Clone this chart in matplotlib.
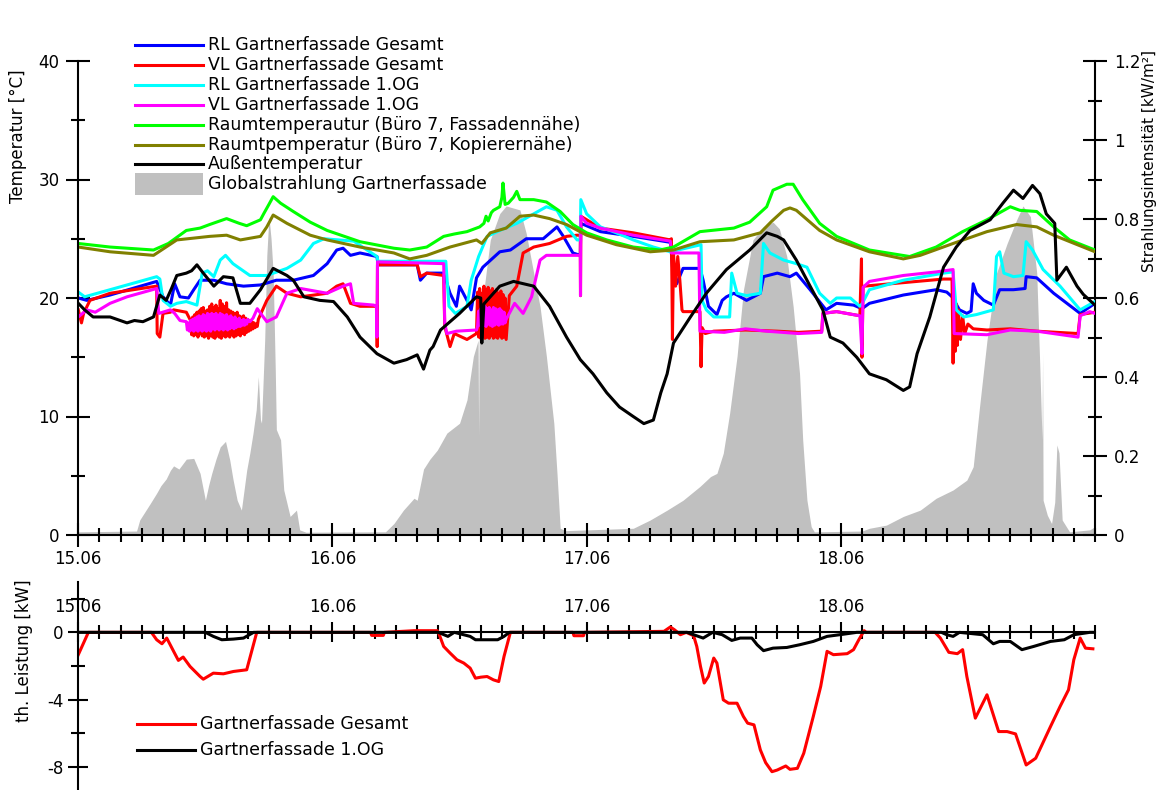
import numpy as np
import matplotlib.pyplot as plt
from matplotlib.lines import Line2D
from matplotlib.patches import Rectangle
from matplotlib.ticker import MultipleLocator, FixedLocator, FixedFormatter

plt.rcParams['font.family'] = ['DejaVu Sans']
plt.rcParams['font.size'] = 12
plt.rcParams['axes.unicode_minus'] = False

# time in hours since 15.06 00:00
day_ticks = [0, 24, 48, 72]
day_labels = ["15.06", "16.06", "17.06", "18.06"]

# [hour, deg C]
rl_gesamt = np.array([
    [0, 20.0], [0.8, 19.8], [3, 20.25], [7.4, 21.4], [8.0, 20.1], [8.7, 19.4], [9.1, 21.2],
    [9.6, 20.1], [10.4, 20.0], [10.9, 20.7], [11.5, 21.5], [12.8, 21.5], [14, 21.2],
    [15.6, 21.0], [17.2, 21.1], [18.7, 21.5], [20.3, 21.5], [22.2, 21.9], [23.5, 22.9],
    [24.4, 24.05], [25, 24.2], [25.7, 23.6], [26.6, 23.8], [28.2, 23.5], [28.3, 22.8],
    [32.0, 22.8], [32.3, 21.5], [32.9, 22.1], [34.5, 22.1], [35.1, 20.4], [35.7, 19.3],
    [36, 21.0], [36.7, 19.8], [37.1, 19.0], [37.6, 21.7], [38.2, 22.6], [39.8, 23.9],
    [40.8, 24.05], [42.3, 25.0], [43.9, 25.0], [45.2, 26.0], [45.8, 25.2], [46.7, 23.8],
    [47.4, 23.6], [47.45, 26.3], [49.3, 25.6], [52.4, 25.2], [55.9, 24.7], [56.0, 23.8],
    [56.2, 21.5], [56.5, 21.2], [57.1, 22.5], [58.7, 22.5], [59, 21.5], [59.5, 19.3],
    [60.3, 18.6], [60.8, 19.8], [61.2, 20.1], [61.9, 20.4], [63.1, 19.8], [64.4, 20.4],
    [64.7, 21.8], [66, 22.1], [67.2, 21.8], [67.8, 22.1], [69.1, 20.7], [70.6, 19.0],
    [71.6, 19.55], [73.2, 19.4], [74, 19.1], [74.7, 19.55], [77.9, 20.25], [81, 20.7],
    [82, 20.5], [82.5, 20.1], [83.2, 19.0], [83.9, 18.7], [84.3, 18.9], [84.5, 21.2],
    [84.8, 20.4], [85.5, 19.8], [86.4, 19.4], [87, 20.7], [88.3, 20.7], [89.4, 20.8],
    [89.5, 21.8], [90.5, 21.7], [92.1, 20.4], [94.6, 18.7], [96, 19.55]])

vl_gesamt = np.array([
    [0, 19.0], [0.3, 17.9], [0.5, 18.7], [1.1, 19.8], [3, 20.4], [7.4, 21.0], [7.45, 17.0],
    [7.7, 16.7], [8.0, 18.7], [8.7, 18.8], [9.0, 19.0], [10.2, 18.8], [10.6, 18.1],
    [10.7, 16.9], [10.8, 18.4], [10.9, 16.8], [11.0, 18.6], [11.1, 16.9], [11.2, 18.8],
    [11.3, 16.7], [11.4, 18.9], [11.5, 17.0], [11.6, 19.1], [11.7, 16.8], [11.8, 19.2],
    [11.9, 16.7], [12.0, 18.9], [12.1, 16.8], [12.2, 19.0], [12.3, 16.6], [12.4, 19.3],
    [12.5, 16.8], [12.6, 19.5], [12.7, 16.7], [12.8, 19.2], [12.9, 16.6], [13.0, 19.4],
    [13.1, 16.8], [13.2, 19.1], [13.3, 16.7], [13.4, 19.8], [13.5, 16.6], [13.6, 19.5],
    [13.7, 16.8], [13.8, 19.3], [13.9, 16.7], [14.0, 19.6], [14.1, 16.8], [14.2, 19.0],
    [14.3, 16.7], [14.4, 18.9], [14.5, 16.9], [14.6, 18.8], [14.7, 16.7], [14.8, 18.7],
    [14.9, 16.8], [15.0, 18.8], [15.1, 16.9], [15.2, 18.5], [15.3, 16.8], [15.4, 18.4],
    [15.5, 17.0], [15.6, 18.5], [15.7, 16.9], [15.8, 18.3], [15.9, 17.1], [16.0, 18.2],
    [16.1, 17.2], [16.2, 18.1], [16.3, 17.3], [16.4, 18.0], [16.5, 17.4], [16.6, 17.9],
    [16.7, 17.5], [16.8, 17.8], [16.9, 17.6], [17.0, 18.2], [17.8, 19.8], [18.7, 21.0],
    [19.7, 20.4], [21, 20.1], [23.5, 20.4], [24.4, 21.0], [25, 21.2], [25.7, 19.55],
    [26.6, 19.3], [28.2, 19.3], [28.22, 15.9], [28.25, 22.8], [32.0, 22.8], [32.3, 21.8],
    [32.9, 22.1], [34.5, 21.9], [34.6, 17.6], [35.1, 15.9], [35.5, 17.0], [36.7, 16.5],
    [37.6, 17.0], [37.7, 20.5], [37.8, 16.7], [37.9, 20.8], [38.0, 16.6], [38.1, 20.4],
    [38.2, 16.8], [38.3, 21.0], [38.4, 16.6], [38.5, 20.7], [38.6, 16.7], [38.7, 20.9],
    [38.8, 16.6], [38.9, 20.6], [39.0, 16.8], [39.1, 20.8], [39.2, 16.6], [39.3, 20.5],
    [39.4, 16.7], [39.5, 20.7], [39.6, 16.6], [39.7, 20.4], [39.8, 16.8], [39.9, 20.6],
    [40.0, 16.6], [40.1, 20.3], [40.2, 16.7], [40.3, 20.0], [40.4, 16.5], [40.7, 20.2],
    [41.4, 21.0], [42.0, 23.8], [43, 24.3], [44.5, 24.6], [46.1, 25.2], [47.1, 25.3],
    [47.4, 25.3], [47.42, 20.2], [47.45, 26.9], [49.3, 25.9], [52.4, 25.5], [55.9, 24.9],
    [56.0, 25.0], [56.05, 21.5], [56.1, 16.5], [56.2, 23.8], [56.4, 21.0], [56.6, 23.5],
    [56.8, 21.5], [57.0, 19.0], [57.1, 18.85], [58.7, 18.85], [58.8, 14.2], [58.9, 17.5],
    [59.2, 17.0], [60, 17.2], [63, 17.3], [66, 17.2], [68, 17.1], [70.2, 17.2], [70.3, 18.7],
    [71.6, 18.85], [73.8, 18.5], [73.95, 23.3], [74.0, 15.0], [74.1, 20.9], [74.2, 21.0],
    [77.9, 21.3], [81.7, 21.6], [82.5, 21.6], [82.6, 14.5], [82.7, 20.4], [82.8, 15.5],
    [82.9, 19.5], [83.0, 16.0], [83.1, 19.0], [83.3, 16.5], [83.5, 18.5], [83.7, 17.0],
    [84, 17.8], [84.5, 17.4], [85.8, 17.3], [88, 17.4], [90.5, 17.2], [94.4, 17.0],
    [94.6, 18.6], [96, 18.8]])

rl_1og = np.array([
    [0, 20.5], [0.6, 20.1], [3, 20.7], [7.4, 21.8], [7.7, 21.6], [8.0, 19.8], [8.7, 19.3],
    [9.3, 19.55], [10.2, 19.7], [11.2, 19.4], [11.7, 22.1], [12.2, 22.3], [12.8, 21.8],
    [13.4, 23.2], [13.9, 23.6], [14.6, 22.9], [16.2, 21.9], [17.8, 21.9], [19.7, 22.5],
    [21, 23.2], [22.2, 24.6], [23.2, 25.0], [26.0, 24.8], [28.2, 23.5], [28.3, 23.1],
    [34.7, 23.1], [35.0, 19.3], [35.6, 18.7], [36.7, 19.3], [37.1, 21.5], [37.8, 23.5],
    [38.6, 25.2], [39.8, 25.7], [41.4, 26.3], [43, 27.1], [44.2, 27.7], [45.2, 27.4],
    [46.1, 26.0], [47.1, 24.9], [47.4, 24.9], [47.45, 28.3], [48, 27.1], [49.3, 26.0],
    [50.8, 25.5], [52.4, 24.9], [54.3, 24.3], [55.9, 23.9], [58.8, 24.5], [58.9, 19.8],
    [59.3, 19.0], [60, 18.4], [61.5, 18.4], [61.7, 22.1], [62.2, 20.4], [63.1, 20.2],
    [64.4, 20.4], [64.7, 24.6], [65.3, 23.8], [66.6, 23.2], [67.8, 22.9], [68.8, 22.6],
    [70, 20.4], [71, 19.55], [71.6, 20.0], [72.9, 20.0], [73.8, 19.3], [74.0, 19.5],
    [74.7, 20.7], [77.9, 21.5], [81.7, 22.1], [82.6, 22.2], [82.9, 19.0], [83.6, 18.4],
    [84.8, 18.6], [86.4, 19.0], [86.7, 23.5], [87, 23.9], [87.4, 22.1], [88.3, 21.8],
    [89.2, 21.9], [89.5, 24.75], [90.1, 24.05], [91.1, 22.4], [92.7, 21.0], [94.6, 19.0],
    [96, 19.7]])

vl_1og = np.array([
    [0, 18.4], [0.8, 19.0], [1.6, 18.8], [3, 19.55], [4.6, 20.1], [7.4, 20.8], [7.6, 18.7],
    [8.7, 19.0], [9.1, 18.7], [9.6, 18.1], [10.2, 18.0], [10.3, 17.3], [10.4, 17.9],
    [10.5, 17.2], [10.6, 18.1], [10.7, 17.3], [10.8, 18.2], [10.9, 17.2], [11.0, 18.3],
    [11.1, 17.3], [11.2, 18.4], [11.3, 17.2], [11.4, 18.5], [11.5, 17.3], [11.6, 18.4],
    [11.7, 17.2], [11.8, 18.6], [11.9, 17.3], [12.0, 18.5], [12.1, 17.2], [12.2, 18.7],
    [12.3, 17.3], [12.4, 18.6], [12.5, 17.2], [12.6, 18.7], [12.7, 17.4], [12.8, 18.6],
    [12.9, 17.3], [13.0, 18.7], [13.1, 17.4], [13.2, 18.5], [13.3, 17.3], [13.4, 18.7],
    [13.5, 17.4], [13.6, 18.6], [13.7, 17.3], [13.8, 18.5], [13.9, 17.4], [14.0, 18.6],
    [14.1, 17.3], [14.2, 18.4], [14.3, 17.4], [14.4, 18.5], [14.5, 17.5], [14.6, 18.3],
    [14.7, 17.4], [14.8, 18.4], [14.9, 17.5], [15.0, 18.2], [15.1, 17.6], [15.2, 18.3],
    [15.3, 17.6], [15.4, 18.1], [15.5, 17.7], [15.6, 18.2], [15.7, 17.7], [15.8, 18.1],
    [15.9, 17.8], [16.0, 18.2], [16.2, 18.0], [16.5, 18.3], [16.9, 19.1], [17.3, 18.6],
    [17.8, 18.0], [18.7, 18.4], [19.7, 20.4], [21, 20.8], [23.5, 20.4], [25, 21.0],
    [25.7, 21.2], [26, 19.55], [27.9, 19.4], [28.15, 19.3], [28.2, 16.7], [28.25, 23.05],
    [34.5, 22.9], [34.6, 17.9], [34.8, 17.0], [35.7, 17.2], [37.6, 17.3], [37.7, 17.6],
    [37.8, 18.9], [37.9, 17.7], [38.0, 19.1], [38.1, 17.6], [38.2, 19.2], [38.3, 17.7],
    [38.4, 19.3], [38.5, 17.6], [38.6, 19.1], [38.7, 17.8], [38.8, 19.2], [38.9, 17.7],
    [39.0, 19.0], [39.1, 17.6], [39.2, 19.2], [39.3, 17.7], [39.4, 19.1], [39.5, 17.8],
    [39.6, 19.0], [39.7, 17.7], [39.8, 19.1], [39.9, 17.8], [40.0, 18.9], [40.1, 17.8],
    [40.2, 18.8], [40.3, 17.9], [40.4, 18.2], [40.7, 18.7], [41.2, 19.55], [42, 18.7],
    [42.8, 20.1], [43.6, 23.2], [44.2, 23.6], [47.4, 23.6], [47.42, 20.2], [47.45, 26.9],
    [48, 26.3], [49.3, 25.9], [52.4, 25.3], [55.9, 24.8], [56.0, 23.8], [58.6, 23.8],
    [58.7, 17.2], [61, 17.1], [63, 17.4], [65, 17.2], [68, 17.0], [70.2, 17.1], [70.3, 18.7],
    [71.6, 18.85], [73.8, 18.5], [74.0, 15.3], [74.1, 20.9], [74.7, 21.4], [77.9, 21.9],
    [81, 22.2], [82.6, 22.4], [82.7, 17.0], [85.8, 16.9], [88, 17.3], [90.5, 17.2],
    [94.4, 16.7], [94.6, 18.5], [95.5, 18.85], [96, 18.7]])

raum_fassade = np.array([
    [0, 24.6], [3, 24.3], [7.1, 24.05], [8.5, 24.6], [10.2, 25.7], [11.5, 25.9], [12.4, 26.2],
    [14, 26.7], [15.2, 26.3], [15.9, 26.1], [17.2, 26.6], [17.5, 27.1], [18.0, 27.9],
    [18.4, 28.55], [19.1, 28.0], [20.3, 27.3], [21.9, 26.4], [23.5, 25.7], [26.6, 24.75],
    [29.8, 24.2], [31.3, 24.05], [32.9, 24.3], [34.5, 25.2], [35.5, 25.4], [36.7, 25.6],
    [37.9, 26.0], [38.3, 26.3], [38.5, 26.9], [38.7, 26.5], [39.0, 27.2], [39.2, 27.4],
    [39.8, 27.7], [40.0, 28.5], [40.1, 29.7], [40.3, 27.9], [40.6, 28.0], [41.1, 28.5],
    [41.4, 29.0], [41.7, 28.3], [43, 28.3], [44.2, 28.1], [45.5, 27.3], [46.7, 26.2],
    [48, 25.5], [49.9, 24.9], [52.4, 24.3], [54.9, 24.05], [56.2, 24.3], [58.7, 25.6],
    [61.9, 25.9], [63.4, 26.4], [65, 27.7], [65.6, 29.1], [66.9, 29.6], [67.5, 29.6],
    [68.4, 28.3], [70, 26.3], [71.6, 25.2], [74.7, 24.05], [78.5, 23.5], [81, 24.3],
    [83.5, 25.6], [85.8, 26.6], [88, 27.7], [88.9, 27.4], [90.5, 27.3], [92.1, 26.0],
    [93.6, 24.9], [96, 24.05]])

raum_kopierer = np.array([
    [0, 24.3], [3, 23.9], [7.1, 23.6], [9.3, 24.9], [12.4, 25.2], [14, 25.3], [15.3, 24.9],
    [17.2, 25.2], [17.8, 26.0], [18.4, 27.0], [19.7, 26.3], [21.9, 25.3], [23.5, 24.9],
    [26.6, 24.3], [29.8, 23.8], [31.3, 23.3], [32.9, 23.6], [35.1, 24.3], [37.6, 24.9],
    [38.1, 24.6], [38.9, 25.5], [40.4, 25.9], [41.7, 26.9], [43, 27.0], [44.5, 26.7],
    [46.1, 26.2], [48, 25.3], [50.8, 24.5], [54, 23.9], [56.2, 24.05], [58.7, 24.75],
    [61.9, 24.9], [64.4, 25.5], [65.5, 26.5], [66.6, 27.4], [67.2, 27.6], [67.8, 27.4],
    [70, 25.7], [71.6, 24.9], [74.7, 23.9], [77.9, 23.3], [79.5, 23.6], [82.6, 24.6],
    [85.8, 25.6], [88.6, 26.2], [90.5, 26.0], [92.1, 25.3], [96, 23.9]])

aussen = np.array([
    [0, 19.55], [0.6, 19.0], [1.4, 18.4], [3, 18.4], [4.6, 17.9], [5.3, 18.1], [6.1, 18.0],
    [7.1, 18.4], [7.7, 20.25], [8.3, 19.8], [8.8, 20.8], [9.3, 21.9], [10.2, 22.1],
    [10.7, 22.3], [11.2, 22.8], [11.8, 22.1], [12.8, 21.0], [13.7, 21.8], [14.6, 21.7],
    [15.3, 19.55], [16.2, 19.55], [17.2, 20.7], [18.4, 22.5], [19.7, 21.9], [20.3, 21.5],
    [21.3, 20.1], [22.8, 19.8], [24.1, 19.7], [25.4, 18.4], [26.6, 16.7], [28.2, 15.3],
    [29.8, 14.5], [31, 14.8], [32, 15.2], [32.6, 14.0], [33.2, 15.6], [33.5, 15.9],
    [34.2, 17.3], [36, 18.7], [37.6, 20.1], [38.0, 20.0], [38.1, 16.2], [38.3, 19.5],
    [38.6, 19.8], [39.8, 21.0], [41.1, 21.4], [43, 21.0], [44.5, 19.3], [46.1, 16.7],
    [47.4, 14.8], [48.6, 13.6], [49.9, 12.0], [51.1, 10.8], [52.4, 10.0], [53.4, 9.4],
    [54.3, 9.7], [55, 12.0], [55.6, 13.6], [56.2, 16.2], [57.8, 18.4], [59.3, 20.4],
    [61.2, 22.4], [63.4, 24.05], [65, 25.5], [66, 25.2], [66.6, 24.9], [67.8, 23.2],
    [69.1, 21.0], [70.3, 19.0], [71, 16.7], [72.2, 16.2], [73.5, 15.0], [74.7, 13.6],
    [76.3, 13.1], [77.9, 12.2], [78.5, 12.5], [79.2, 15.3], [80.4, 18.4], [81.7, 22.6],
    [82.9, 24.3], [84.2, 25.7], [86.1, 26.6], [87.3, 28.0], [88.3, 29.1], [89.2, 28.4],
    [90.1, 29.5], [90.8, 28.8], [91.4, 27.1], [92.2, 26.3], [92.4, 21.5], [93.3, 22.6],
    [94.3, 21.0], [94.9, 20.3], [96, 19.4]])

# [hour, kW/m2]
globalstrahlung = np.array([
    [0, 0.008], [5.5, 0.01], [5.8, 0.038], [6.8, 0.08], [7.4, 0.106], [7.8, 0.125],
    [8.3, 0.142], [8.7, 0.164], [9, 0.175], [9.5, 0.167], [10.2, 0.192], [10.9, 0.194],
    [11.2, 0.175], [11.5, 0.156], [12, 0.088], [12.3, 0.125], [12.6, 0.156], [13, 0.192],
    [13.4, 0.223], [13.9, 0.237], [14.3, 0.19], [14.6, 0.142], [15, 0.088], [15.4, 0.063],
    [15.9, 0.164], [16.2, 0.208], [16.5, 0.258], [16.8, 0.317], [17, 0.401], [17.2, 0.292],
    [17.3, 0.283], [17.6, 0.493], [17.8, 0.708], [18.0, 0.806], [18.2, 0.75], [18.4, 0.663],
    [18.6, 0.417], [18.7, 0.267], [19.1, 0.241], [19.4, 0.114], [20.0, 0.047], [20.6, 0.063],
    [20.9, 0.013], [21.5, 0.007], [29.0, 0.008], [29.8, 0.029], [30.7, 0.063], [31.7, 0.093],
    [32.0, 0.088], [32.6, 0.167], [33.2, 0.192], [33.9, 0.215], [34.8, 0.258], [36.0, 0.283],
    [36.7, 0.342], [37.3, 0.452], [37.75, 0.493], [37.8, 0.25], [37.85, 0.5], [38.1, 0.578],
    [38.9, 0.747], [39.8, 0.814], [40.4, 0.833], [41.7, 0.823], [42.3, 0.763], [43, 0.663],
    [43.6, 0.578], [44.2, 0.452], [44.9, 0.283], [45.2, 0.156], [45.5, 0.017], [46, 0.011],
    [52.4, 0.017], [54, 0.038], [55.6, 0.063], [57.1, 0.088], [58.7, 0.123], [59.7, 0.148],
    [60.3, 0.156], [60.9, 0.207], [61.5, 0.308], [62.2, 0.452], [62.8, 0.62], [63.7, 0.747],
    [64.7, 0.781], [65.6, 0.792], [66.2, 0.775], [66.9, 0.705], [67.5, 0.578], [68.1, 0.409],
    [68.4, 0.241], [68.8, 0.088], [69.2, 0.021], [69.5, 0.008], [74.0, 0.01], [74.7, 0.017],
    [76.3, 0.025], [77.9, 0.047], [79.5, 0.063], [81, 0.093], [82.6, 0.114], [83.9, 0.139],
    [84.5, 0.173], [85.1, 0.325], [85.8, 0.493], [86.7, 0.663], [87.7, 0.738], [88.6, 0.798],
    [89.2, 0.833], [89.9, 0.806], [90.5, 0.663], [90.8, 0.417], [91.0, 0.241], [91.05, 0.458],
    [91.1, 0.088], [91.5, 0.05], [91.9, 0.029], [92.2, 0.083], [92.4, 0.228], [92.6, 0.208],
    [92.9, 0.038], [93.6, 0.008], [95.5, 0.013], [96, 0.021]])

# [hour, kW]
leistung_gesamt = np.array([
    [0, -1.33], [0.95, 0], [6.9, 0], [7.4, -0.44], [7.9, -0.68], [8.35, -0.34], [9.0, -1.13],
    [9.45, -1.67], [9.9, -1.47], [10.55, -2.03], [11.5, -2.63], [11.8, -2.79], [12.75, -2.43],
    [13.7, -2.47], [14.65, -2.33], [15.9, -2.23], [16.85, 0], [27.6, 0], [27.7, -0.18],
    [28.8, -0.18], [28.9, 0], [31.7, 0.1], [33.9, 0.1], [34.0, 0], [34.5, -0.84],
    [35.1, -1.23], [35.75, -1.63], [36.4, -1.83], [37.0, -2.13], [37.5, -2.73], [38.0, -2.67],
    [38.6, -2.63], [39.2, -2.83], [39.7, -2.93], [40.2, -1.43], [40.8, 0], [46.7, 0],
    [46.8, -0.2], [47.7, -0.2], [47.8, 0], [55.3, 0.06], [55.9, 0.32], [56.3, 0.15],
    [56.85, -0.14], [57.4, 0], [58.1, -0.2], [58.4, -0.84], [58.75, -2.03], [59.1, -3.02],
    [59.5, -2.63], [60.0, -1.53], [60.3, -1.83], [60.9, -4.02], [61.4, -4.22], [62.2, -4.22],
    [62.8, -5.01], [63.2, -5.41], [63.8, -5.51], [64.4, -7.0], [64.9, -7.76], [65.5, -8.3],
    [66.0, -8.2], [66.8, -7.96], [67.2, -8.16], [67.9, -8.1], [68.5, -7.2], [69.4, -5.01],
    [70.1, -3.22], [70.7, -1.13], [71.3, -1.33], [72.6, -1.27], [73.2, -1.03], [73.7, -0.44],
    [74.2, 0.1], [74.4, 0], [80.9, 0], [81.4, -0.34], [82.2, -1.19], [83.0, -1.27],
    [83.5, -1.03], [83.9, -2.63], [84.7, -5.11], [85.8, -3.72], [86.9, -5.91], [87.7, -5.91],
    [88.5, -6.05], [89.5, -7.9], [90.4, -7.5], [91.8, -5.61], [92.7, -4.42], [93.5, -3.42],
    [94.0, -1.63], [94.6, -0.34], [95.1, -0.94], [95.8, -0.98]])

leistung_1og = np.array([
    [0, 0], [12.0, 0], [12.75, -0.24], [13.55, -0.44], [14.65, -0.4], [15.6, -0.34],
    [16.55, 0], [34.0, 0], [34.9, -0.24], [35.5, 0], [37.0, -0.24], [37.5, -0.44],
    [39.6, -0.44], [40.2, -0.24], [40.7, 0], [57.5, 0], [58.1, -0.14], [59.0, -0.34],
    [59.9, 0], [60.8, -0.14], [61.7, -0.48], [62.5, -0.34], [63.6, -0.34], [64.1, -0.74],
    [64.7, -1.09], [65.6, -0.94], [66.9, -0.9], [68.1, -0.74], [69.4, -0.54], [70.7, -0.24],
    [71.9, -0.14], [73.5, 0], [81.5, 0], [82.0, -0.14], [82.6, -0.24], [83.2, 0],
    [85.4, -0.14], [86.4, -0.68], [87.0, -0.54], [88.0, -0.54], [89.1, -1.03], [90.2, -0.84],
    [91.8, -0.54], [93.1, -0.44], [94.0, -0.14], [95.5, 0], [95.8, 0]])

top_series = [
    (rl_gesamt, "#0000ff", "RL Gartnerfassade Gesamt"),
    (vl_gesamt, "#ff0000", "VL Gartnerfassade Gesamt"),
    (rl_1og, "#00ffff", "RL Gartnerfassade 1.OG"),
    (vl_1og, "#ff00ff", "VL Gartnerfassade 1.OG"),
    (raum_fassade, "#00ff00", "Raumtemperautur (Büro 7, Fassadennähe)"),
    (raum_kopierer, "#808000", "Raumtpemperatur (Büro 7, Kopierernähe)"),
    (aussen, "#000000", "Außentemperatur"),
]
bottom_series = [
    (leistung_gesamt, "#ff0000", "Gartnerfassade Gesamt"),
    (leistung_1og, "#000000", "Gartnerfassade 1.OG"),
]
gray = "#c0c0c0"

W, H = 1167, 790
fig = plt.figure(figsize=(W / 100, H / 100), dpi=100)

def fx(px):
    return px / W

def fy(py):
    return 1 - py / H

x0, x1 = 78.3, 1095
LW = 2.2
LEG_FS = 12.5

# ---- top panel
ax = fig.add_axes([fx(x0), fy(535), (x1 - x0) / W, (535 - 61) / H])
axr = ax.twinx()
ax.set_zorder(axr.get_zorder() + 1)
ax.patch.set_visible(False)

axr.fill_between(globalstrahlung[:, 0], globalstrahlung[:, 1], color=gray, lw=0)
for data, c, lab in top_series:
    ax.plot(data[:, 0], data[:, 1], color=c, lw=LW)

ax.set_xlim(0, 96)
ax.set_ylim(0, 40)
axr.set_ylim(0, 1.2)
axr.set_xlim(0, 96)

for a in (ax, axr):
    a.spines['top'].set_visible(False)
    for s in a.spines.values():
        s.set_linewidth(1.5)
ax.spines['right'].set_visible(False)
axr.spines['left'].set_visible(False)
axr.spines['bottom'].set_visible(False)

ax.xaxis.set_major_locator(FixedLocator(day_ticks))
ax.xaxis.set_major_formatter(FixedFormatter(day_labels))
ax.xaxis.set_minor_locator(MultipleLocator(2))
ax.yaxis.set_major_locator(MultipleLocator(10))
ax.yaxis.set_minor_locator(MultipleLocator(5))
ax.tick_params(which='major', direction='inout', length=17, width=1.5)
ax.tick_params(which='minor', direction='inout', length=10, width=1.5)
ax.tick_params(axis='x', which='major', pad=2)
ax.tick_params(axis='y', which='major', pad=5)

rt = [0, 0.2, 0.4, 0.6, 0.8, 1.0, 1.2]
axr.yaxis.set_major_locator(FixedLocator(rt))
axr.yaxis.set_major_formatter(FixedFormatter(["0", "0.2", "0.4", "0.6", "0.8", "1", "1.2"]))
axr.yaxis.set_minor_locator(MultipleLocator(0.1))
axr.tick_params(which='major', direction='inout', length=17, width=1.5, pad=5)
axr.tick_params(which='minor', direction='inout', length=10, width=1.5)

ax.set_ylabel("Temperatur [°C]")
ax.yaxis.set_label_coords(-0.050, 0.842)
axr.set_ylabel("Strahlungsintensität [kW/m²]", fontsize=11)
axr.yaxis.set_label_coords(1.046, 0.79)

# legend of top panel
for i, (data, c, lab) in enumerate(top_series):
    yy = 45 + 19.9 * i
    fig.add_artist(Line2D([fx(135), fx(203)], [fy(yy), fy(yy)], color=c, lw=LW))
    fig.text(fx(208), fy(yy), lab, va='center', ha='left', fontsize=LEG_FS)
yy = 45 + 19.9 * 7
fig.add_artist(Rectangle((fx(135), fy(yy + 11)), (203 - 135) / W, 22 / H, color=gray, lw=0))
fig.text(fx(208), fy(yy), "Globalstrahlung Gartnerfassade", va='center', ha='left',
         fontsize=LEG_FS)

# ---- bottom panel
ymin2 = -(790 - 632.7) / 16.75
ax2 = fig.add_axes([fx(x0), 0, (x1 - x0) / W, (790 - 582) / H])
for data, c, lab in bottom_series:
    ax2.plot(data[:, 0], data[:, 1], color=c, lw=LW)
ax2.set_xlim(0, 96)
ax2.set_ylim(ymin2, 3.0)
ax2.spines['bottom'].set_visible(False)
ax2.spines['right'].set_visible(False)
ax2.spines['top'].set_position(('data', 0))
for s in ax2.spines.values():
    s.set_linewidth(1.5)
ax2.xaxis.tick_top()
ax2.xaxis.set_major_locator(FixedLocator(day_ticks))
ax2.xaxis.set_major_formatter(FixedFormatter(day_labels))
ax2.xaxis.set_minor_locator(MultipleLocator(2))
ax2.yaxis.set_major_locator(FixedLocator([0, -4, -8]))
ax2.yaxis.set_minor_locator(FixedLocator([2, -2, -6]))
ax2.tick_params(which='major', direction='inout', length=14, width=1.5)
ax2.tick_params(which='minor', direction='inout', length=10, width=1.5)
ax2.tick_params(axis='x', which='major', pad=5)
ax2.tick_params(axis='y', which='major', pad=3.5)
ax2.set_ylabel("th. Leistung [kW]")
ax2.yaxis.set_label_coords(-0.0445, 0.668)

for i, (data, c, lab) in enumerate(bottom_series):
    yy = 724 + 26 * i
    fig.add_artist(Line2D([fx(137), fx(195)], [fy(yy), fy(yy)], color=c, lw=LW))
    fig.text(fx(200), fy(yy), lab, va='center', ha='left', fontsize=LEG_FS)

fig.savefig("out.png", dpi=100)
